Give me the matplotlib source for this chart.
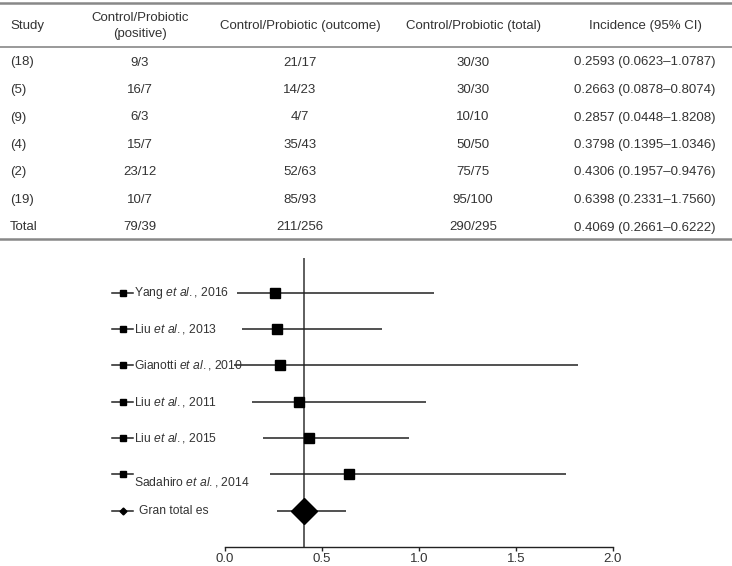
import matplotlib
matplotlib.use('agg')
import numpy as np
import matplotlib.pyplot as plt
import matplotlib.transforms as mtransforms

plt.rcParams['font.family'] = ['Liberation Sans', 'DejaVu Sans']
plt.rcParams['mathtext.fontset'] = 'custom'
plt.rcParams['mathtext.rm'] = 'Liberation Sans'
plt.rcParams['mathtext.it'] = 'Liberation Sans:italic'

# table data
study_ids = ['(18)', '(5)', '(9)', '(4)', '(2)', '(19)', 'Total']
positive = ['9/3', '16/7', '6/3', '15/7', '23/12', '10/7', '79/39']
outcome = ['21/17', '14/23', '4/7', '35/43', '52/63', '85/93', '211/256']
total = ['30/30', '30/30', '10/10', '50/50', '75/75', '95/100', '290/295']
incidence = [0.2593, 0.2663, 0.2857, 0.3798, 0.4306, 0.6398, 0.4069]
ci_low = [0.0623, 0.0878, 0.0448, 0.1395, 0.1957, 0.2331, 0.2661]
ci_high = [1.0787, 0.8074, 1.8208, 1.0346, 0.9476, 1.7560, 0.6222]

# forest plot labels
authors = ['Yang', 'Liu', 'Gianotti', 'Liu', 'Liu', 'Sadahiro']
years = ['2016', '2013', '2010', '2011', '2015', '2014']
pooled_label = 'Gran total es'

W, H = 732, 566
fig = plt.figure(figsize=(W / 100, H / 100), dpi=100)

def fy(px):
    return 1 - px / H

def fx(px):
    return px / W

txt_color = '#333333'
line_color = '#888888'
fs = 9.5
fs_forest = 8.7

# ---- table ----
fig.add_artist(plt.Line2D([0, 1], [fy(3), fy(3)], color=line_color, lw=1.8))
fig.add_artist(plt.Line2D([0, 1], [fy(47), fy(47)], color=line_color, lw=1.2))
fig.add_artist(plt.Line2D([0, 1], [fy(239), fy(239)], color=line_color, lw=1.8))

col_x = [140, 300, 473, 645]
fig.text(fx(10), fy(26), 'Study', ha='left', va='center', fontsize=fs, color=txt_color)
fig.text(fx(col_x[0]), fy(26), 'Control/Probiotic\n(positive)', ha='center', va='center',
         fontsize=fs, color=txt_color, linespacing=1.45)
fig.text(fx(col_x[1]), fy(26), 'Control/Probiotic (outcome)', ha='center', va='center', fontsize=fs, color=txt_color)
fig.text(fx(col_x[2]), fy(26), 'Control/Probiotic (total)', ha='center', va='center', fontsize=fs, color=txt_color)
fig.text(fx(col_x[3]), fy(26), 'Incidence (95% CI)', ha='center', va='center', fontsize=fs, color=txt_color)

row0, row_step = 62.5, 27.5
for i in range(len(study_ids)):
    y = fy(row0 + i * row_step)
    ci_txt = '%.4f (%.4f\u2013%.4f)' % (incidence[i], ci_low[i], ci_high[i])
    fig.text(fx(10), y, study_ids[i], ha='left', va='center', fontsize=fs, color=txt_color)
    fig.text(fx(col_x[0]), y, positive[i], ha='center', va='center', fontsize=fs, color=txt_color)
    fig.text(fx(col_x[1]), y, outcome[i], ha='center', va='center', fontsize=fs, color=txt_color)
    fig.text(fx(col_x[2]), y, total[i], ha='center', va='center', fontsize=fs, color=txt_color)
    fig.text(fx(col_x[3]), y, ci_txt, ha='center', va='center', fontsize=fs, color=txt_color)

# ---- forest plot ----
ax = fig.add_axes([fx(225), fy(547), fx(613) - fx(225), fy(258) - fy(547)])
ax.set_xlim(0, 2)
ax.set_ylim(7.0, -0.96)
for s in ['top', 'right', 'left']:
    ax.spines[s].set_visible(False)
ax.spines['bottom'].set_color('#222222')
ax.spines['bottom'].set_linewidth(1.0)
ax.set_yticks([])
ax.set_xticks([0, 0.5, 1.0, 1.5, 2.0])
ax.set_xticklabels(['0.0', '0.5', '1.0', '1.5', '2.0'])
ax.tick_params(axis='x', direction='out', length=3, width=1, color='#222222',
               labelsize=fs, labelcolor=txt_color, pad=1)

n = len(authors)
rows = np.arange(n + 1)
ax.axvline(incidence[-1], color='#333333', lw=1.1, zorder=1)
ax.hlines(rows, ci_low, ci_high, color='#222222', lw=1.1, zorder=2)
ax.plot(incidence[:n], rows[:n], 's', color='black', ms=6.5, zorder=3)
ax.plot([incidence[-1]], [rows[-1]], 'D', color='black', ms=13, zorder=3)

# left-side legend style labels
trans = mtransforms.blended_transform_factory(fig.transFigure, ax.transData)
label_y_off = [0, 0, 0, 0, 0, 0.2, 0]
for i in range(n + 1):
    ax.plot([fx(112), fx(133)], [rows[i], rows[i]], color='#222222', lw=1.1,
            transform=trans, clip_on=False)
    if i < n:
        ax.plot([fx(122.5)], [rows[i]], 's', color='black', ms=4.5, transform=trans, clip_on=False)
        label = authors[i] + r' $\it{et}$ $\it{al.}$, ' + years[i]
    else:
        ax.plot([fx(122.5)], [rows[i]], 'D', color='black', ms=3.5, transform=trans, clip_on=False)
        label = pooled_label
    xt = 134 if i < n else 139
    ax.text(fx(xt), rows[i] + label_y_off[i], label, transform=trans, ha='left', va='center',
            fontsize=fs_forest, color=txt_color, clip_on=False)

fig.savefig('out.png', dpi=100)
